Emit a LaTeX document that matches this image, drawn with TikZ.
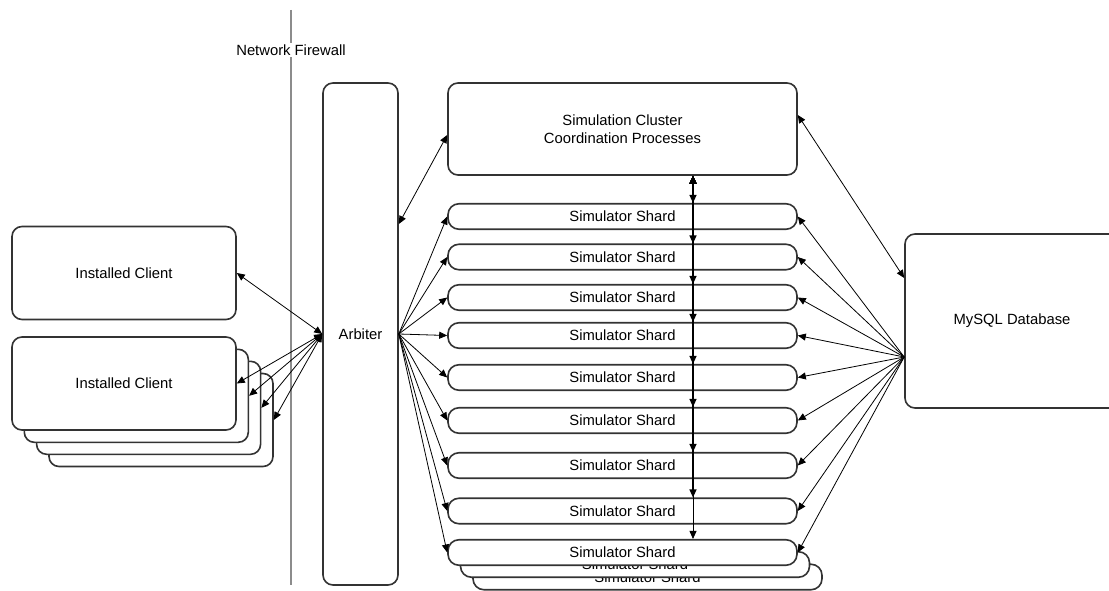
\documentclass[tikz,border=0pt]{standalone}
\usepackage{fontspec}
\setmainfont{Liberation Sans}
\usetikzlibrary{arrows.meta,calc}
\tikzset{
  box/.style={draw=black!80, line width=1.6pt, rounded corners=10pt, fill=white,
    inner sep=0pt, align=center, font=\fontsize{14.8}{18.5}\selectfont},
  shard/.style={box, minimum width=349pt, minimum height=25.5pt, rounded corners=11pt},
  client/.style={box, minimum width=224pt, minimum height=93pt},
  conn/.style={draw=black, line width=0.8pt},
  vconn/.style={draw=black, line width=1.2pt},
  tip/.style={>={Triangle[length=8pt,width=7pt]}},
  fw/.style={draw=black!45, line width=1.3pt},
  fwlabel/.style={fill=white, inner sep=2pt, font=\fontsize{14.8}{18.5}\selectfont}
}
\begin{document}
\begin{tikzpicture}[x=1pt,y=-1pt,tip]
\useasboundingbox (0,0) rectangle (1109,591);
\clip (0,0) rectangle (1109,591);
% firewall
\coordinate (fwtop) at (291,10);
\coordinate (fwbot) at (291,585);
\draw[fw] (fwtop) -- (fwbot);
\node[fwlabel] (fwl) at (291,50) {Network Firewall};
% clients
\node[client] (c1) at (124,273) {Installed Client};
\node[client] (cs4) at (161,420) {};
\node[client] (cs3) at (148.6,407.8) {};
\node[client] (cs2) at (136.3,395.8) {};
\node[client] (cs1) at (124,383.5) {Installed Client};
% arbiter
\node[box, minimum width=75pt, minimum height=502pt] (arb) at (360.5,334) {Arbiter};
% cluster
\node[box, minimum width=349pt, minimum height=92pt] (cl) at (622.5,129)
  {Simulation Cluster\\Coordination Processes};
% shards
\node[shard] (sh9c) at (647.5,577) {Simulator Shard};
\node[shard] (sh9b) at (635,564.5) {Simulator Shard};
\node[shard] (sh1) at (622.5,216.5) {Simulator Shard};
\node[shard] (sh2) at (622.5,257) {Simulator Shard};
\node[shard] (sh3) at (622.5,297.5) {Simulator Shard};
\node[shard] (sh4) at (622.5,335.5) {Simulator Shard};
\node[shard] (sh5) at (622.5,377.5) {Simulator Shard};
\node[shard] (sh6) at (622.5,420.5) {Simulator Shard};
\node[shard] (sh7) at (622.5,465.5) {Simulator Shard};
\node[shard] (sh8) at (622.5,511) {Simulator Shard};
\node[shard] (sh9) at (622.5,552.5) {Simulator Shard};
% database
\node[box, minimum width=214pt, minimum height=174pt] (db) at (1012,321) {MySQL Database};
% connectors: clients <-> arbiter
\draw[conn,<->] (c1.east) -- (arb.west);
\draw[conn,<->] (cs1.east) -- (arb.west);
\draw[conn,<->] (cs2.east) -- (arb.west);
\draw[conn,<->] (cs3.east) -- (arb.west);
\draw[conn,<->] (cs4.east) -- (arb.west);
% arbiter <-> cluster
\draw[conn,<->] ([yshift=110pt]arb.east) -- ([yshift=-6pt]cl.west);
% arbiter -> shards
\foreach \s in {sh1,sh2,sh3,sh4,sh5,sh6,sh7,sh8,sh9}
  \draw[conn,->] (arb.east) -- (\s.west);
% cluster <-> database
\draw[conn,<->] ([yshift=14pt]cl.east) -- ([yshift=43pt]db.west);
% database -> shards
\coordinate (dbfan) at ([yshift=-36pt]db.west);
\foreach \s in {sh1,sh2,sh3,sh4,sh5,sh6,sh7,sh8,sh9}
  \draw[conn,->] (dbfan) -- (\s.east);
% cluster <-> shards (vertical)
\coordinate (cx) at ([xshift=70.5pt]cl.south);
\foreach \s in {sh1,sh2,sh3,sh4,sh5,sh6,sh7,sh8}
  \draw[vconn,<->] (cx) -- (cx |- \s.north);
\draw[conn,<->] (cx) -- (cx |- sh9.north);
\end{tikzpicture}
\end{document}
